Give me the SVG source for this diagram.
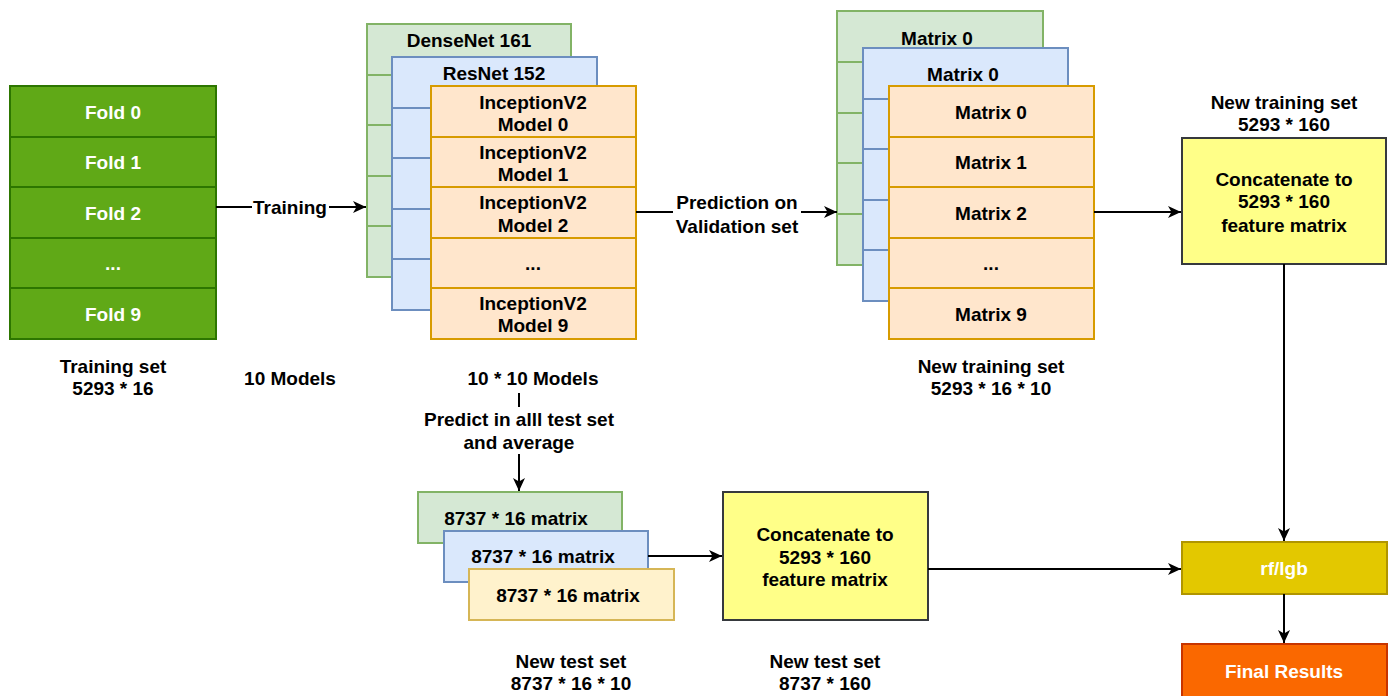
<svg xmlns="http://www.w3.org/2000/svg" width="1392" height="696" viewBox="0 0 1392 696">
<style>
text{font-family:"Liberation Sans",Arial,Helvetica,sans-serif;font-weight:bold;font-size:19px;text-anchor:middle;dominant-baseline:central;fill:#000}
.w{fill:#fff}
.gd{fill:#60a917;stroke:#2d7600;stroke-width:2}
.gl{fill:#d5e8d4;stroke:#82b366;stroke-width:2}
.bl{fill:#dae8fc;stroke:#6c8ebf;stroke-width:2}
.or{fill:#ffe6cc;stroke:#d79b00;stroke-width:2}
.yl{fill:#fff2cc;stroke:#d6b656;stroke-width:2}
.yb{fill:#ffff88;stroke:#36393d;stroke-width:2}
.rf{fill:#e3c800;stroke:#b09500;stroke-width:2}
.fr{fill:#fa6800;stroke:#c73500;stroke-width:2}
.ln{stroke:#000;stroke-width:2;fill:none}
.ar{marker-end:url(#ah)}
</style>
<defs>
<marker id="ah" markerWidth="14" markerHeight="14" refX="13" refY="7" orient="auto" markerUnits="userSpaceOnUse">
<path d="M0,1 L13,7 L0,13 L3.5,7 Z" fill="#000"/>
</marker>
</defs>
<rect width="1392" height="696" fill="#fff"/>

<g id="folds">
<rect class="gd" x="10" y="86" width="206" height="51"/>
<rect class="gd" x="10" y="137" width="206" height="50"/>
<rect class="gd" x="10" y="187" width="206" height="51"/>
<rect class="gd" x="10" y="238" width="206" height="50"/>
<rect class="gd" x="10" y="288" width="206" height="51"/>
<text class="w" x="113" y="112">Fold 0</text>
<text class="w" x="113" y="162">Fold 1</text>
<text class="w" x="113" y="213">Fold 2</text>
<text class="w" x="113" y="263">...</text>
<text class="w" x="113" y="314">Fold 9</text>
</g>
<g id="label-training-set">
<text x="113" y="366">Training set</text>
<text x="113" y="388">5293 * 16</text>
</g>
<text id="label-10models" x="290" y="378">10 Models</text>

<g id="densenet">
<rect class="gl" x="367" y="24" width="204" height="51"/>
<rect class="gl" x="367" y="75" width="204" height="50"/>
<rect class="gl" x="367" y="125" width="204" height="51"/>
<rect class="gl" x="367" y="176" width="204" height="50"/>
<rect class="gl" x="367" y="226" width="204" height="51"/>
<text x="469" y="40">DenseNet 161</text>
</g>
<g id="resnet">
<rect class="bl" x="392" y="57" width="205" height="51"/>
<rect class="bl" x="392" y="108" width="205" height="50"/>
<rect class="bl" x="392" y="158" width="205" height="51"/>
<rect class="bl" x="392" y="209" width="205" height="50"/>
<rect class="bl" x="392" y="259" width="205" height="51"/>
<text x="494" y="73">ResNet 152</text>
</g>
<g id="inception">
<rect class="or" x="431" y="86" width="205" height="51"/>
<rect class="or" x="431" y="137" width="205" height="50"/>
<rect class="or" x="431" y="187" width="205" height="51"/>
<rect class="or" x="431" y="238" width="205" height="50"/>
<rect class="or" x="431" y="288" width="205" height="51"/>
<text x="533" y="102">InceptionV2</text><text x="533" y="124">Model 0</text>
<text x="533" y="152">InceptionV2</text><text x="533" y="174">Model 1</text>
<text x="533" y="202">InceptionV2</text><text x="533" y="225">Model 2</text>
<text x="533" y="263">...</text>
<text x="533" y="303">InceptionV2</text><text x="533" y="325">Model 9</text>
</g>
<text id="label-100models" x="533" y="378">10 * 10 Models</text>

<g id="matrix-green">
<rect class="gl" x="837" y="11" width="206" height="51"/>
<rect class="gl" x="837" y="62" width="206" height="51"/>
<rect class="gl" x="837" y="113" width="206" height="50"/>
<rect class="gl" x="837" y="163" width="206" height="51"/>
<rect class="gl" x="837" y="214" width="206" height="51"/>
<text x="937" y="38">Matrix 0</text>
</g>
<g id="matrix-blue">
<rect class="bl" x="863" y="48" width="205" height="51"/>
<rect class="bl" x="863" y="99" width="205" height="50"/>
<rect class="bl" x="863" y="149" width="205" height="51"/>
<rect class="bl" x="863" y="200" width="205" height="50"/>
<rect class="bl" x="863" y="250" width="205" height="51"/>
<text x="963" y="74">Matrix 0</text>
</g>
<g id="matrix-orange">
<rect class="or" x="889" y="86" width="205" height="51"/>
<rect class="or" x="889" y="137" width="205" height="50"/>
<rect class="or" x="889" y="187" width="205" height="51"/>
<rect class="or" x="889" y="238" width="205" height="50"/>
<rect class="or" x="889" y="288" width="205" height="51"/>
<text x="991" y="112">Matrix 0</text>
<text x="991" y="162">Matrix 1</text>
<text x="991" y="213">Matrix 2</text>
<text x="991" y="263">...</text>
<text x="991" y="314">Matrix 9</text>
</g>
<g id="label-new-training">
<text x="991" y="366">New training set</text>
<text x="991" y="388">5293 * 16 * 10</text>
</g>

<g id="concat-train">
<text x="1284" y="102">New training set</text>
<text x="1284" y="124">5293 * 160</text>
<rect class="yb" x="1182" y="138" width="204" height="126"/>
<text x="1284" y="179">Concatenate to</text>
<text x="1284" y="201">5293 * 160</text>
<text x="1284" y="225">feature matrix</text>
</g>

<g id="test-green">
<rect class="gl" x="418" y="492" width="204" height="51"/>
<text x="516" y="518">8737 * 16 matrix</text>
</g>
<g id="test-blue">
<rect class="bl" x="444" y="531" width="204" height="51"/>
<text x="543" y="556">8737 * 16 matrix</text>
</g>
<g id="test-yellow">
<rect class="yl" x="469" y="569" width="205" height="51"/>
<text x="568" y="595">8737 * 16 matrix</text>
</g>
<g id="label-new-test">
<text x="571" y="661">New test set</text>
<text x="571" y="683">8737 * 16 * 10</text>
</g>

<g id="concat-test">
<rect class="yb" x="723" y="492" width="205" height="128"/>
<text x="825" y="534">Concatenate to</text>
<text x="825" y="557">5293 * 160</text>
<text x="825" y="579">feature matrix</text>
<text x="825" y="661">New test set</text>
<text x="825" y="683">8737 * 160</text>
</g>

<g id="rflgb">
<rect class="rf" x="1182" y="542" width="205" height="52"/>
<text class="w" x="1284" y="568">rf/lgb</text>
</g>
<g id="final">
<rect class="fr" x="1182" y="644" width="205" height="60"/>
<text class="w" x="1284" y="671">Final Results</text>
</g>

<g id="connectors">
<line class="ln ar" x1="216" y1="207" x2="366" y2="207"/>
<rect x="252" y="195" width="77" height="24" fill="#fff"/>
<text x="290" y="207">Training</text>
<line class="ln ar" x1="636" y1="212" x2="837" y2="212"/>
<rect x="673" y="190" width="128" height="48" fill="#fff"/>
<text x="737" y="202">Prediction on</text>
<text x="737" y="226">Validation set</text>
<line class="ln ar" x1="1094" y1="212" x2="1181" y2="212"/>
<line class="ln ar" x1="1284" y1="264" x2="1284" y2="541"/>
<line class="ln ar" x1="1284" y1="594" x2="1284" y2="643"/>
<line class="ln" x1="519" y1="393" x2="519" y2="407"/>
<text x="519" y="419">Predict in alll test set</text>
<text x="519" y="442">and average</text>
<line class="ln ar" x1="519" y1="454" x2="519" y2="491"/>
<line class="ln ar" x1="648" y1="556" x2="722" y2="556"/>
<line class="ln ar" x1="928" y1="569" x2="1181" y2="569"/>
</g>
</svg>
